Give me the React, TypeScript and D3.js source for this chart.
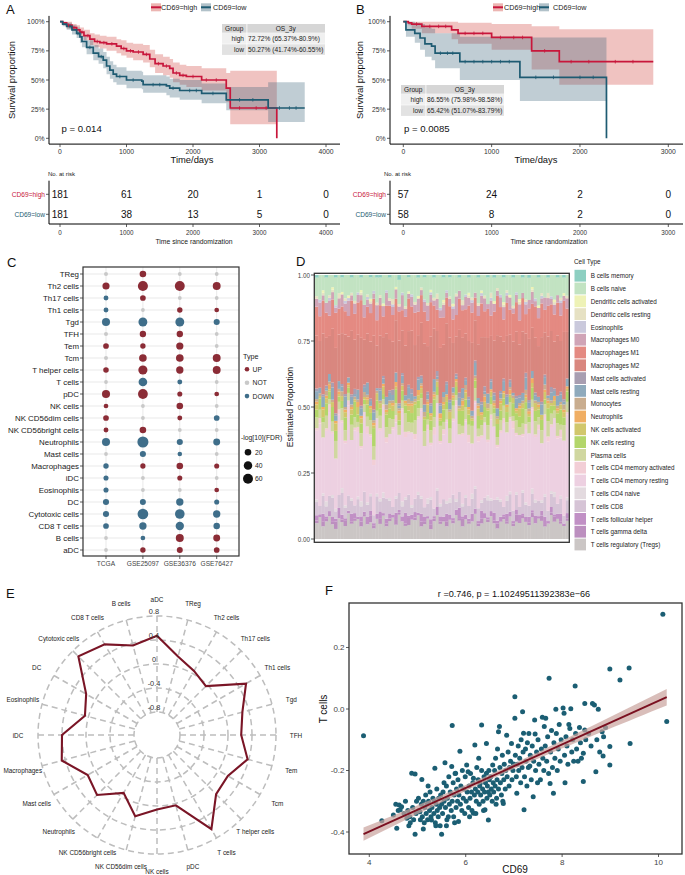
import React from "react";
import * as d3 from "d3";

const FONT = "'Liberation Sans', Arial, Helvetica, sans-serif";
const RED = "#C8163B";
const BLUE = "#1E5B72";
const RED_BAND = "#D0453F";
const BLUE_BAND = "#3B6579";

// ---------------- Panel A (TCGA) ----------------
const aHighTime = [0, 40, 100, 180, 250, 300, 360, 450, 520, 600, 700, 850, 920, 1000, 1100, 1250, 1350, 1430, 1550, 1650, 1700, 1800, 1900, 2130, 2500, 2560, 3260];
const aHighSurv = [1, .99, .97, .95, .93, .91, .88, .85, .83, .82, .81, .79, .77, .75, .74, .72, .68, .64, .62, .60, .56, .54, .53, .50, .43, .26, 0];
const aHighLower = [1, .97, .94, .92, .89, .87, .84, .80, .78, .77, .75, .73, .71, .69, .67, .65, .61, .56, .54, .52, .48, .46, .44, .41, .31, .12, .12];
const aHighUpper = [1, 1, 1, .98, .97, .95, .93, .90, .89, .88, .87, .85, .84, .82, .81, .80, .76, .72, .70, .68, .65, .63, .62, .60, .56, .58, .58];
const aHighCensor = [130, 210, 330, 420, 560, 660, 780, 960, 1060, 1180, 1300, 1480, 1600, 1750, 1850, 2000, 2200, 2350, 2700, 2950, 3100];

const aLowTime = [0, 40, 100, 180, 250, 300, 330, 400, 500, 580, 650, 700, 750, 800, 850, 1000, 1230, 1250, 1600, 1650, 1800, 2130, 2500, 3130, 3680];
const aLowSurv = [1, .98, .96, .93, .90, .87, .83, .78, .73, .70, .67, .62, .585, .55, .53, .50, .49, .46, .45, .43, .41, .385, .33, .26, .26];
const aLowLower = [1, .96, .93, .89, .86, .82, .78, .72, .67, .64, .60, .55, .51, .48, .46, .43, .42, .39, .37, .35, .33, .30, .24, .14, .14];
const aLowUpper = [1, 1, .99, .97, .95, .92, .88, .84, .80, .77, .74, .70, .66, .63, .61, .58, .57, .54, .53, .51, .50, .47, .44, .48, .48];
const aLowCensor = [150, 270, 450, 620, 900, 1100, 1400, 1500, 1700, 1950, 2050, 2300, 2700, 2900, 3300, 3450, 3550];

const aRiskTimes = [0, 1000, 2000, 3000, 4000];
const aRiskHigh = [181, 61, 20, 1, 0];
const aRiskLow = [181, 38, 13, 5, 0];
const aTableRows = [["high", "72.72% (65.37%-80.9%)"], ["low", "50.27% (41.74%-60.55%)"]];

// ---------------- Panel B ----------------
const bHighTime = [0, 57, 95, 210, 547, 620, 1000, 1453, 1766, 2830];
const bHighSurv = [1, .99, .98, .96, .93, .90, .865, .75, .657, .657];
const bHighLower = [1, .97, .94, .90, .85, .81, .76, .59, .46, .46];
const bHighUpper = [1, 1, 1, 1, 1, .99, .98, .96, .935, .935];
const bHighCensor = [150, 300, 400, 480, 700, 800, 900, 1100, 1250, 1350, 1600, 1900, 2100, 2400, 2600];

const bLowTime = [0, 30, 130, 190, 245, 320, 360, 640, 1320, 2300];
const bLowSurv = [1, .93, .90, .86, .81, .79, .73, .657, .523, 0];
const bLowLower = [1, .87, .82, .76, .70, .67, .60, .50, .32, .32];
const bLowUpper = [1, 1, .99, .98, .95, .94, .90, .87, .865, .865];
const bLowCensor = [420, 500, 560, 700, 800, 900, 1000, 1100, 1200, 1500, 1700, 2000, 2150];

const bRiskTimes = [0, 1000, 2000, 3000];
const bRiskHigh = [57, 24, 2, 0];
const bRiskLow = [58, 8, 2, 0];
const bTableRows = [["high", "86.55% (75.98%-98.58%)"], ["low", "65.42% (51.07%-83.79%)"]];

const survTicks = [0, 0.25, 0.5, 0.75, 1];

// ---------------- Panel C ----------------
const cRows = ["TReg", "Th2 cells", "Th17 cells", "Th1 cells", "Tgd", "TFH", "Tem", "Tcm", "T helper cells", "T cells", "pDC", "NK cells", "NK CD56dim cells", "NK CD56bright cells", "Neutrophils", "Mast cells", "Macrophages", "iDC", "Eosinophils", "DC", "Cytotoxic cells", "CD8 T cells", "B cells", "aDC"];
const cCols = ["TCGA", "GSE25097", "GSE36376", "GSE76427"];
const typeTCGA = ["N", "U", "D", "D", "D", "N", "U", "N", "U", "N", "U", "U", "U", "U", "D", "N", "D", "D", "D", "D", "D", "D", "N", "N"];
const typeGSE25097 = ["U", "U", "U", "N", "D", "U", "U", "U", "U", "D", "U", "N", "N", "U", "D", "D", "U", "N", "N", "D", "D", "D", "D", "U"];
const typeGSE36376 = ["N", "U", "N", "U", "D", "U", "U", "U", "U", "D", "U", "U", "U", "N", "D", "D", "U", "U", "N", "D", "D", "D", "U", "U"];
const typeGSE76427 = ["N", "U", "N", "U", "D", "N", "N", "U", "U", "N", "U", "N", "D", "N", "D", "N", "U", "N", "U", "D", "D", "D", "U", "U"];
const fdrTCGA = [4, 25, 8, 8, 35, 4, 13, 4, 12, 3, 35, 7, 13, 8, 35, 3, 11, 9, 9, 16, 16, 13, 3, 3];
const fdrGSE25097 = [20, 62, 13, 3, 45, 18, 11, 30, 48, 42, 58, 3, 3, 20, 78, 16, 10, 3, 3, 15, 72, 27, 7, 11];
const fdrGSE36376 = [3, 60, 3, 11, 45, 18, 26, 30, 27, 8, 9, 20, 8, 3, 16, 6, 20, 9, 3, 27, 55, 38, 34, 15];
const fdrGSE76427 = [3, 33, 3, 7, 16, 3, 3, 33, 33, 3, 7, 3, 13, 3, 23, 3, 9, 3, 7, 9, 27, 19, 23, 13];
const cTypeLabels = ["UP", "NOT", "DOWN"];
const cTypeColors: Record<string, string> = { U: "#8B2C36", N: "#C9C9C9", D: "#3F6E8A" };
const cSizeBreaks = [20, 40, 60];

// ---------------- Panel D (CIBERSORT fractions, %) ----------------
const cellTypes = ["B cells memory", "B cells naive", "Dendritic cells activated", "Dendritic cells resting", "Eosinophils", "Macrophages M0", "Macrophages M1", "Macrophages M2", "Mast cells activated", "Mast cells resting", "Monocytes", "Neutrophils", "NK cells activated", "NK cells resting", "Plasma cells", "T cells CD4 memory activated", "T cells CD4 memory resting", "T cells CD4 naive", "T cells CD8", "T cells follicular helper", "T cells gamma delta", "T cells regulatory (Tregs)"];
const cellColors = ["#8DCFC1", "#C2E3C2", "#EEF2B6", "#E6E1C3", "#CAC9DC", "#D0A4B6", "#E48A82", "#D9877F", "#A89EB1", "#8FAABC", "#C9AD8F", "#F0AE63", "#D1C76C", "#B3D66B", "#D0D7A0", "#F2CED6", "#EDD0E1", "#E3DADF", "#D6C4D6", "#C190C5", "#BC8FBF", "#CBC6C5"];

const bCellsMemory = [1,0,0,1,0,0,1,0,1,0, 0,1,0,0,1,0,0,1,0,1, 1,0,0,1,0,0,2,0,0,1, 0,0,1,0,1,0,0,1,0,0, 1,0,1,0,0,1,0,0,1,0, 0,1,0,0,1,0,1,0,0,1, 0,0,1,0,0,1,0,1,0,0, 1,0,0,1,0,0,1,0,1,0];
const bCellsNaive = [7,9,6,10,8,5,11,7,6,9, 8,6,10,7,5,12,8,9,6,10, 7,11,6,8,9,5,10,7,12,6, 8,10,7,5,9,11,6,8,7,13, 9,6,8,11,7,5,10,8,6,9, 7,10,6,8,11,7,9,5,8,10, 6,8,11,7,9,6,10,8,5,9, 11,7,9,6,8,10,7,9,6,8];
const dcActivated = [0,0,1,0,0,1,0,0,1,0, 1,0,0,0,1,0,0,1,0,0, 0,1,0,0,0,1,0,0,0,1, 0,0,1,0,0,0,1,0,0,0, 1,0,0,1,0,0,0,0,1,0, 0,0,1,0,0,0,1,0,0,1, 0,1,0,0,1,0,0,0,1,0, 1,0,0,0,0,1,0,0,1,0];
const dcResting = [1,0,1,0,1,1,0,2,0,1, 0,1,1,0,1,0,1,1,0,1, 1,0,0,1,2,0,1,0,1,0, 0,1,0,1,0,1,0,1,2,0, 1,0,1,0,1,0,2,0,1,1, 0,1,0,1,0,2,0,1,0,1, 1,0,1,0,1,0,1,0,1,0, 0,1,0,2,0,1,0,1,0,1];
const eosinophils = [0,1,0,0,1,0,1,0,0,1, 1,0,0,1,0,0,1,0,1,0, 0,0,1,0,1,0,0,1,0,0, 1,0,0,0,1,0,1,0,0,1, 0,1,0,1,0,0,0,1,0,1, 0,0,1,0,0,1,0,0,1,0, 1,0,0,1,0,0,1,0,0,1, 0,1,0,0,1,0,0,1,0,0];
const macroM0 = [3,5,2,4,6,3,2,4,5,3, 6,2,4,3,2,5,3,4,2,6, 3,4,5,2,3,4,2,6,3,2, 4,3,5,2,4,6,3,2,4,3, 5,2,3,4,7,3,2,5,3,4, 2,4,3,5,2,6,3,2,4,5, 3,5,2,3,6,2,4,3,5,2, 4,2,5,3,2,4,3,5,2,4];
const macroM1 = [11,9,13,10,8,12,14,10,11,9, 8,12,10,13,15,9,11,12,14,10, 12,8,11,13,10,9,12,8,11,14, 10,12,9,11,13,10,14,9,8,12, 11,10,13,9,8,12,11,10,14,12, 9,11,13,10,12,8,11,15,12,9, 13,10,11,12,9,13,8,11,10,12, 11,13,9,12,10,11,13,10,12,9];
const macroM2 = [20,17,24,19,15,22,26,18,21,23, 16,25,19,22,27,18,20,24,28,17, 21,15,25,20,18,22,26,17,19,23, 24,19,16,21,25,18,27,20,15,22, 19,23,26,17,14,24,20,18,22,27, 16,21,25,19,23,17,20,28,22,15, 23,18,20,26,19,24,16,22,18,21, 20,25,17,23,21,19,24,20,26,18];
const mastActivated = [1,0,1,1,0,2,1,0,1,1, 0,1,2,0,1,1,0,1,1,0, 1,1,0,1,2,0,1,1,0,1, 2,0,1,1,0,1,1,0,2,1, 0,1,1,0,1,2,0,1,1,0, 1,0,1,2,0,1,1,0,1,1, 1,1,0,1,1,0,2,1,0,1, 0,1,1,0,2,1,0,1,1,0];
const mastResting = [3,2,4,1,3,5,2,3,2,4, 2,3,1,4,3,2,5,2,3,1, 4,2,3,3,2,4,1,3,2,5, 3,1,4,2,3,2,3,5,1,3, 2,4,3,2,1,3,4,2,3,2, 5,2,3,1,4,3,2,3,2,4, 3,2,1,4,2,3,5,2,3,2, 2,4,3,1,3,2,4,3,1,3];
const monocytes = [1,1,0,2,1,1,0,1,2,1, 0,1,1,1,0,2,1,0,1,1, 1,0,2,1,1,0,1,1,0,2, 1,1,0,1,2,1,0,1,1,0, 2,0,1,1,0,1,1,2,0,1, 1,1,0,1,2,0,1,1,1,0, 0,1,1,0,1,1,2,1,0,1, 1,0,2,1,1,0,1,1,2,0];
const neutrophils = [1,0,1,1,2,0,1,1,0,1, 1,1,0,2,1,0,1,1,1,0, 0,1,1,0,1,2,1,0,1,1, 1,0,2,1,0,1,1,1,0,2, 1,1,0,1,1,0,2,1,1,0, 0,1,1,2,0,1,1,0,1,1, 1,2,0,1,1,0,1,1,2,0, 1,0,1,1,0,2,1,0,1,1];
const nkActivated = [2,1,3,2,1,2,3,1,2,2, 1,2,1,3,2,1,2,2,1,3, 2,3,1,2,2,1,3,2,1,2, 3,1,2,2,1,3,2,1,2,1, 2,2,3,1,2,1,2,3,2,1, 1,3,2,2,1,2,1,2,3,2, 2,1,2,1,3,2,2,1,2,3, 1,2,3,2,1,2,1,2,2,1];
const nkResting = [3,4,2,5,3,6,4,2,3,5, 2,4,6,3,4,2,5,3,7,4, 3,2,5,4,3,6,2,4,3,5, 4,6,3,2,5,3,4,7,3,2, 5,3,4,2,3,5,6,3,4,2, 3,5,2,4,6,3,2,5,4,3, 4,2,5,3,4,6,3,2,5,4, 3,4,2,5,3,2,4,6,3,4];
const plasmaCells = [4,3,6,5,2,4,7,3,5,4, 3,6,4,2,5,3,4,6,5,3, 5,2,4,6,3,5,4,3,7,4, 4,5,3,4,6,2,5,4,3,6, 3,4,6,5,2,4,3,5,4,7, 5,3,4,2,6,4,5,3,4,5, 4,6,2,5,3,4,6,4,3,5, 3,5,4,6,4,3,5,2,6,4];
const cd4MemActivated = [1,2,0,1,3,1,0,2,1,1, 2,0,1,2,1,0,3,1,2,0, 1,1,2,0,1,3,0,1,2,1, 0,2,1,1,0,2,1,3,0,1, 2,1,0,1,2,0,1,1,3,0, 1,2,1,0,1,2,0,1,1,2, 0,1,3,1,0,1,2,0,1,1, 2,0,1,2,1,0,1,3,0,1];
const cd4MemResting = [26,30,22,28,33,25,20,31,27,24, 35,23,29,26,21,32,28,24,19,30, 27,33,22,25,29,31,24,36,23,26, 30,22,28,34,25,27,21,29,32,24, 26,31,23,28,35,22,27,30,25,20, 33,26,24,29,22,31,28,19,27,34, 25,29,32,23,27,21,30,26,33,24, 28,22,31,27,24,30,26,23,29,32];
const cd4Naive = [1,0,1,2,0,1,1,0,2,1, 0,1,0,1,2,0,1,1,0,1, 1,2,0,1,0,1,0,2,1,0, 1,0,1,1,0,2,1,0,1,1, 0,1,2,0,1,0,1,1,0,2, 1,0,1,0,2,1,0,1,1,0, 2,1,0,1,0,1,1,0,2,1, 0,1,1,0,1,2,0,1,0,1];
const cd8 = [5,3,7,4,6,8,3,5,9,4, 6,5,3,7,4,8,5,6,3,7, 4,6,8,5,3,6,7,4,5,9, 3,5,7,6,4,5,8,3,6,4, 7,4,5,9,3,6,4,7,5,6, 8,5,3,6,7,4,5,8,6,3, 5,7,4,6,3,8,5,4,7,5, 6,3,8,4,5,7,4,6,3,5];
const tfh = [2,1,3,1,2,2,1,4,2,1, 1,3,2,1,2,1,3,2,1,2, 3,1,2,2,1,3,1,2,4,1, 2,2,1,3,2,1,2,1,3,2, 1,3,2,1,2,4,1,2,1,3, 2,1,3,2,1,2,3,1,2,1, 3,2,1,2,3,1,2,2,1,3, 1,2,3,1,2,1,2,3,1,2];
const gammaDelta = [1,0,2,1,0,1,3,0,1,2, 0,1,1,0,2,1,0,3,1,0, 2,0,1,1,0,2,1,0,1,3, 0,1,0,2,1,0,2,1,0,1, 1,2,0,1,0,1,3,0,1,0, 0,1,2,0,1,0,1,2,0,1, 1,0,1,3,0,1,0,1,2,0, 0,2,1,0,1,2,0,1,0,1];
const tregs = [6,8,5,7,9,6,4,8,7,5, 10,6,7,8,5,9,6,7,4,8, 6,9,5,7,8,6,10,7,5,6, 8,7,9,5,6,8,4,7,9,6, 7,5,8,6,9,7,5,8,6,7, 10,5,6,8,7,9,6,4,7,8, 6,9,5,7,6,8,7,5,9,6, 8,7,5,6,9,7,8,6,5,7];
const cellFractions = [bCellsMemory, bCellsNaive, dcActivated, dcResting, eosinophils, macroM0, macroM1, macroM2, mastActivated, mastResting, monocytes, neutrophils, nkActivated, nkResting, plasmaCells, cd4MemActivated, cd4MemResting, cd4Naive, cd8, tfh, gammaDelta, tregs];
const dTicks = [0, 0.25, 0.5, 0.75, 1];

// ---------------- Panel E (radar) ----------------
const radarCats = ["aDC", "TReg", "Th2 cells", "Th17 cells", "Th1 cells", "Tgd", "TFH", "Tem", "Tcm", "T helper cells", "T cells", "pDC", "NK cells", "NK CD56dim cells", "NK CD56bright cells", "Neutrophils", "Mast cells", "Macrophages", "iDC", "Eosinophils", "DC", "Cytotoxic cells", "CD8 T cells", "B cells"];
const radarVals = [0.47, 0.17, 0.05, -0.03, 0.53, 0.29, 0.22, 0.38, 0.18, 0.21, 0.63, 0.03, 0.06, 0.22, -0.07, 0.23, 0.15, 0.46, 0.40, 0.06, 0.18, 0.67, 0.56, 0.36];
const radarRings = [-0.8, -0.4, 0, 0.4, 0.8];

// ---------------- Panel F (scatter) ----------------
const cd69VsTcells: [number, number][] = [
  [3.88,-0.087],[4.26,-0.363],[4.57,-0.388],[4.55,-0.31],[4.60,-0.33],[4.62,-0.312],[4.64,-0.328],[4.67,-0.318],[4.50,-0.345],
  [4.72,-0.34],[4.75,-0.30],[4.78,-0.355],[4.80,-0.33],[4.84,-0.35],[4.85,-0.37],[4.88,-0.209],[4.90,-0.32],[4.92,-0.36],[4.95,-0.211],[4.95,-0.407],[4.97,-0.34],[4.98,-0.30],[4.82,-0.38],
  [5.02,-0.29],[5.03,-0.33],[5.05,-0.334],[5.06,-0.36],[5.08,-0.31],[5.09,-0.229],[5.10,-0.35],[5.12,-0.30],[5.14,-0.37],[5.15,-0.32],
  [5.17,-0.28],[5.18,-0.34],[5.20,-0.31],[5.21,-0.36],[5.23,-0.30],[5.25,-0.33],[5.26,-0.27],[5.28,-0.35],[5.29,-0.361],[5.30,-0.32],
  [5.32,-0.29],[5.34,-0.34],[5.35,-0.30],[5.36,-0.193],[5.37,-0.37],[5.39,-0.31],[5.40,-0.26],[5.41,-0.33],[5.43,-0.35],[5.44,-0.29],
  [5.46,-0.32],[5.47,-0.38],[5.48,-0.28],[5.50,-0.407],[5.50,-0.31],[5.12,-0.39],[5.22,-0.25],[5.38,-0.38],
  [5.52,-0.34],[5.53,-0.27],[5.55,-0.30],[5.57,-0.175],[5.58,-0.32],[5.60,-0.25],[5.61,-0.36],[5.62,-0.29],[5.64,-0.35],[5.65,-0.22],
  [5.66,-0.31],[5.68,-0.27],[5.70,-0.33],[5.71,-0.187],[5.72,-0.054],[5.72,-0.30],[5.74,-0.24],[5.75,-0.35],[5.76,-0.28],[5.78,-0.21],
  [5.79,-0.209],[5.80,-0.32],[5.81,-0.26],[5.83,-0.30],[5.84,-0.23],[5.85,-0.366],[5.86,-0.28],[5.88,-0.137],[5.89,-0.31],[5.90,-0.25],
  [5.92,-0.33],[5.93,-0.20],[5.95,-0.29],[5.96,-0.26],[5.98,-0.34],[5.99,-0.22],[5.60,-0.38],[5.77,-0.37],[5.55,-0.24],
  [6.01,-0.30],[6.02,-0.182],[6.03,-0.27],[6.05,-0.204],[6.06,-0.32],[6.07,-0.25],[6.09,-0.29],[6.10,-0.21],[6.12,-0.27],[6.13,-0.33],
  [6.15,-0.24],[6.16,-0.225],[6.16,-0.339],[6.18,-0.28],[6.19,-0.117],[6.20,-0.26],[6.22,-0.30],[6.23,-0.19],[6.25,-0.27],[6.26,-0.23],
  [6.28,-0.31],[6.29,-0.25],[6.30,-0.242],[6.31,-0.28],[6.33,-0.052],[6.33,-0.20],[6.35,-0.26],[6.36,-0.30],[6.38,-0.22],[6.39,-0.27],
  [6.40,-0.328],[6.41,-0.24],[6.43,-0.112],[6.43,-0.209],[6.44,-0.29],[6.45,-0.25],[6.47,-0.361],[6.47,-0.27],[6.48,-0.20],[6.49,-0.23],
  [6.08,-0.35],[6.21,-0.34],[6.37,-0.33],[6.27,-0.16],
  [6.50,-0.28],[6.52,-0.22],[6.53,-0.26],[6.55,-0.30],[6.56,-0.182],[6.57,-0.24],[6.58,-0.27],[6.60,-0.20],[6.61,-0.25],[6.62,-0.16],
  [6.64,-0.29],[6.65,-0.23],[6.66,-0.13],[6.68,-0.074],[6.68,-0.26],[6.70,-0.057],[6.71,-0.19],[6.72,-0.24],[6.74,-0.28],[6.75,-0.21],
  [6.76,-0.15],[6.78,-0.307],[6.79,-0.23],[6.80,-0.18],[6.82,-0.26],[6.83,-0.20],[6.85,-0.085],[6.86,-0.22],[6.88,-0.14],[6.90,-0.25],
  [6.91,-0.19],[6.93,-0.17],[6.95,-0.112],[6.96,-0.23],[6.98,-0.20],[6.99,-0.179],[6.63,-0.31],[6.77,-0.30],
  [7.02,-0.03],[7.02,0.04],[7.03,-0.15],[7.05,-0.22],[7.06,-0.274],[7.07,-0.18],[7.09,-0.12],[7.10,-0.20],[7.12,-0.16],[7.14,-0.24],
  [7.15,-0.10],[7.17,-0.19],[7.18,-0.009],[7.19,-0.14],[7.20,-0.079],[7.21,-0.328],[7.22,-0.22],[7.24,-0.13],[7.25,-0.17],[7.27,-0.25],
  [7.28,-0.11],[7.30,-0.19],[7.31,-0.08],[7.33,-0.185],[7.34,-0.15],[7.36,-0.23],[7.38,-0.12],[7.40,-0.285],[7.41,-0.17],[7.43,-0.036],
  [7.44,-0.081],[7.45,-0.20],[7.47,-0.14],[7.49,-0.24],
  [7.50,-0.10],[7.52,-0.18],[7.55,-0.23],[7.57,-0.13],[7.59,-0.027],[7.60,-0.16],[7.62,-0.20],[7.63,-0.057],[7.65,-0.12],[7.66,-0.03],
  [7.68,-0.17],[7.70,-0.09],[7.72,-0.21],[7.73,0.10],[7.75,-0.242],[7.76,-0.14],[7.78,-0.07],[7.80,-0.19],[7.82,-0.274],[7.83,-0.11],
  [7.85,-0.16],[7.87,-0.001],[7.88,-0.08],[7.90,-0.20],[7.92,-0.13],[7.94,-0.05],[7.96,-0.17],[7.98,-0.10],
  [8.02,0.003],[8.04,-0.014],[8.05,-0.15],[8.06,-0.24],[8.08,-0.09],[8.10,-0.12],[8.12,-0.18],[8.14,-0.05],[8.16,-0.063],[8.18,0.001],
  [8.20,-0.14],[8.22,-0.10],[8.24,-0.17],[8.27,0.075],[8.28,-0.08],[8.30,-0.13],[8.33,-0.17],[8.36,-0.06],[8.38,-0.11],[8.40,-0.16],
  [8.44,-0.144],[8.44,-0.236],[8.47,0.018],[8.47,-0.068],[8.49,-0.10],
  [8.55,-0.08],[8.60,-0.12],[8.63,0.018],[8.67,0.013],[8.70,-0.204],[8.72,-0.10],[8.75,-0.001],[8.78,-0.14],[8.83,-0.074],[8.85,-0.153],
  [8.86,-0.09],[8.90,-0.06],[8.99,0.13],[8.99,-0.122],[8.99,-0.182],
  [9.20,0.094],[9.39,0.133],[9.41,-0.112],[10.09,0.308],[10.17,-0.041]
];
const fXTicks = [4, 6, 8, 10];
const fYTicks = [-0.4, -0.2, 0, 0.2];

// ======================================================
type Curve = { name: string; t: number[]; s: number[]; lo: number[]; hi: number[]; cens: number[]; color: string; band: string };

function KMPanel(p: any) {
  const xS = d3.scaleLinear().domain([0, p.tMax]).range(p.tRange);
  const yS = d3.scaleLinear().domain([0, 1]).range([138.3, 21.7]);
  const curves: Curve[] = p.curves;
  const axB = 144.1, axT = 15.9;
  const stepAt = (c: Curve, t: number) => {
    let v = c.s[0];
    c.t.forEach((tt, i) => { if (tt <= t) v = c.s[i]; });
    return v;
  };
  const rowsY = [194.3, 214.3];
  const tb = p.table;
  return (
    <g fontFamily={FONT}>
      <text x={p.letterX} y={14} fontSize={13} fill="#111">{p.letter}</text>
      {curves.map((c, k) => (
        <g key={"lg" + k}>
          <rect x={p.legSw[k]} y={3.3} width={10} height={8} fill={c.band} fillOpacity={0.4} />
          <line x1={p.legSw[k]} x2={p.legSw[k] + 10} y1={7.3} y2={7.3} stroke={c.color} strokeWidth={2} />
          <text x={p.legTx[k]} y={7.5} fontSize={7.2} dominantBaseline="central" fill="#222">{c.name}</text>
        </g>
      ))}
      {curves.map((c, k) => {
        const idx = d3.range(c.t.length);
        const d = d3.area<number>().x(i => xS(c.t[i])).y0(i => yS(c.lo[i])).y1(i => yS(c.hi[i])).curve(d3.curveStepAfter)(idx);
        return <path key={"b" + k} d={d || ""} fill={c.band} fillOpacity={0.32} />;
      })}
      {curves.map((c, k) => {
        const idx = d3.range(c.t.length);
        const d = d3.line<number>().x(i => xS(c.t[i])).y(i => yS(c.s[i])).curve(d3.curveStepAfter)(idx);
        return <path key={"l" + k} d={d || ""} fill="none" stroke={c.color} strokeWidth={1.7} />;
      })}
      {curves.map((c, k) => c.cens.map((t, j) => (
        <line key={"c" + k + "_" + j} x1={xS(t)} x2={xS(t)} y1={yS(stepAt(c, t)) - 1.8} y2={yS(stepAt(c, t)) + 1.8} stroke={c.color} strokeWidth={0.8} />
      )))}
      <line x1={p.axL} x2={p.axL} y1={axT} y2={axB} stroke="#000" strokeWidth={1} />
      <line x1={p.axL} x2={p.axR} y1={axB} y2={axB} stroke="#000" strokeWidth={1} />
      {survTicks.map(v => (
        <g key={"yt" + v}>
          <line x1={p.axL - 3} x2={p.axL} y1={yS(v)} y2={yS(v)} stroke="#333" strokeWidth={0.8} />
          <text x={p.axL - 4.5} y={yS(v)} fontSize={6.8} textAnchor="end" dominantBaseline="central" fill="#333">{Math.round(v * 100) + "%"}</text>
        </g>
      ))}
      {p.ticks.map((t: number) => (
        <g key={"xt" + t}>
          <line x1={xS(t)} x2={xS(t)} y1={axB} y2={axB + 3} stroke="#333" strokeWidth={0.8} />
          <text x={xS(t)} y={151.5} fontSize={6.8} textAnchor="middle" dominantBaseline="central" fill="#333">{t}</text>
        </g>
      ))}
      <text transform={`translate(${p.yTitleX},80) rotate(-90)`} fontSize={9.4} textAnchor="middle" fill="#111">Survival proportion</text>
      <text x={p.xTitleX} y={163} fontSize={9.4} textAnchor="middle" fill="#111">Time/days</text>
      <rect x={tb.x} y={tb.y} width={tb.gw} height={8.7} fill="#D6D6D6" />
      <rect x={tb.x + tb.gw + 0.8} y={tb.y} width={tb.w - tb.gw - 0.8} height={8.7} fill="#D6D6D6" />
      <text x={tb.x + tb.gw / 2} y={tb.y + 4.6} fontSize={6.6} textAnchor="middle" dominantBaseline="central" fill="#222">Group</text>
      <text x={tb.x + tb.gw + (tb.w - tb.gw) / 2} y={tb.y + 4.6} fontSize={6.6} textAnchor="middle" dominantBaseline="central" fill="#222">OS_3y</text>
      {p.tableRows.map((r: string[], k: number) => {
        const y0 = tb.y + 8.7 + k * 11.2;
        const fill = k === 0 ? "#F0F0F0" : "#E2E2E2";
        return (
          <g key={"tr" + k}>
            <rect x={tb.x} y={y0 + 0.4} width={tb.gw} height={10.6} fill={fill} />
            <rect x={tb.x + tb.gw + 0.8} y={y0 + 0.4} width={tb.w - tb.gw - 0.8} height={10.6} fill={fill} />
            <text x={tb.x + tb.gw - 2.5} y={y0 + 5.9} fontSize={6.6} textAnchor="end" dominantBaseline="central" fill="#222">{r[0]}</text>
            <text x={tb.x + tb.gw + 1.5} y={y0 + 5.9} fontSize={6.6} dominantBaseline="central" fill="#222">{r[1]}</text>
          </g>
        );
      })}
      <text x={p.pX} y={131.5} fontSize={9.6} fill="#111">{p.pText}</text>
      <text x={p.noRiskX} y={173.5} fontSize={6} dominantBaseline="central" fill="#222">No. at risk</text>
      <line x1={p.axL} x2={p.axL} y1={180.7} y2={224} stroke="#000" strokeWidth={1} />
      <line x1={p.axL} x2={p.axR} y1={224} y2={224} stroke="#000" strokeWidth={1} />
      {[p.riskHigh, p.riskLow].map((arr: number[], k: number) => (
        <g key={"rk" + k}>
          <line x1={p.axL - 3} x2={p.axL} y1={rowsY[k]} y2={rowsY[k]} stroke="#333" strokeWidth={0.8} />
          <text x={p.axL - 4} y={rowsY[k]} fontSize={6.6} textAnchor="end" dominantBaseline="central" fill={curves[k].color}>{curves[k].name}</text>
          {arr.map((v, j) => (
            <text key={j} x={xS(p.riskTimes[j])} y={rowsY[k] + 0.5} fontSize={10} textAnchor="middle" dominantBaseline="central" fill="#111">{v}</text>
          ))}
        </g>
      ))}
      {p.riskTimes.map((t: number) => (
        <g key={"rt" + t}>
          <line x1={xS(t)} x2={xS(t)} y1={224} y2={227} stroke="#333" strokeWidth={0.8} />
          <text x={xS(t)} y={232} fontSize={6.3} textAnchor="middle" dominantBaseline="central" fill="#333">{t}</text>
        </g>
      ))}
      <text x={p.riskTitleX} y={241} fontSize={6.8} textAnchor="middle" dominantBaseline="central" fill="#222">Time since randomization</text>
    </g>
  );
}

function PanelC() {
  const cx = d3.scalePoint<string>().domain(cCols).range([106, 216.7]);
  const cy = d3.scalePoint<string>().domain(cRows).range([274, 550]);
  const cr = d3.scaleSqrt().domain([0, 70]).range([1, 5.3]);
  const types = [typeTCGA, typeGSE25097, typeGSE36376, typeGSE76427];
  const fdrs = [fdrTCGA, fdrGSE25097, fdrGSE36376, fdrGSE76427];
  const L = 83, R = 239, T = 267, B = 556;
  return (
    <g fontFamily={FONT}>
      <text x={7} y={267} fontSize={13} fill="#111">C</text>
      {cRows.map(r => <line key={"gh" + r} x1={L} x2={R} y1={cy(r)!} y2={cy(r)!} stroke="#E6E6E6" strokeWidth={0.9} />)}
      {cCols.map(c => <line key={"gv" + c} x1={cx(c)!} x2={cx(c)!} y1={T} y2={B} stroke="#E6E6E6" strokeWidth={0.9} />)}
      {cCols.map((c, ci) => cRows.map((r, ri) => (
        <circle key={c + r} cx={cx(c)!} cy={cy(r)!} r={cr(fdrs[ci][ri])} fill={cTypeColors[types[ci][ri]]} />
      )))}
      <rect x={L} y={T} width={R - L} height={B - T} fill="none" stroke="#333" strokeWidth={1.2} />
      {cRows.map(r => (
        <g key={"yl" + r}>
          <line x1={L - 3} x2={L} y1={cy(r)!} y2={cy(r)!} stroke="#333" strokeWidth={0.8} />
          <text x={L - 4} y={cy(r)!} fontSize={7.9} textAnchor="end" dominantBaseline="central" fill="#1a1a1a">{r}</text>
        </g>
      ))}
      {cCols.map(c => (
        <g key={"xl" + c}>
          <line x1={cx(c)!} x2={cx(c)!} y1={B} y2={B + 3} stroke="#333" strokeWidth={0.8} />
          <text x={cx(c)!} y={563.5} fontSize={6.6} textAnchor="middle" dominantBaseline="central" fill="#444">{c}</text>
        </g>
      ))}
      <text x={243} y={356} fontSize={7.2} dominantBaseline="central" fill="#222">Type</text>
      {["U", "N", "D"].map((t, k) => (
        <g key={"lt" + t}>
          <circle cx={247} cy={369.3 + k * 13.4} r={2.3} fill={cTypeColors[t]} />
          <text x={252.5} y={369.5 + k * 13.4} fontSize={6.8} dominantBaseline="central" fill="#222">{cTypeLabels[k]}</text>
        </g>
      ))}
      <text x={241} y={437.7} fontSize={6.8} dominantBaseline="central" fill="#222">-log[10](FDR)</text>
      {cSizeBreaks.map((v, k) => (
        <g key={"ls" + v}>
          <circle cx={248} cy={452.3 + k * 13.2} r={cr(v)} fill="#111" />
          <text x={255} y={452.5 + k * 13.2} fontSize={6.8} dominantBaseline="central" fill="#222">{v}</text>
        </g>
      ))}
    </g>
  );
}

function PanelD() {
  const n = tregs.length;
  const keys = d3.range(cellTypes.length).reverse();
  const rows = d3.range(n).map(i => {
    const tot = d3.sum(cellFractions, a => a[i]);
    const o: Record<number, number> = {};
    cellFractions.forEach((a, k) => { o[k] = a[i] / tot; });
    return o;
  });
  const series = d3.stack<Record<number, number>, number>().keys(keys)(rows);
  const x = d3.scaleBand<number>().domain(d3.range(n)).range([315, 568.5]).padding(0);
  const y = d3.scaleLinear().domain([0, 1]).range([539, 275]);
  return (
    <g fontFamily={FONT}>
      <text x={296} y={266} fontSize={13} fill="#111">D</text>
      {series.map(s => (
        <g key={"s" + s.key} fill={cellColors[s.key as number]}>
          {s.map((d, i) => (
            <rect key={i} x={x(i)!} y={y(d[1])} width={x.bandwidth() + 0.35} height={Math.max(0, y(d[0]) - y(d[1]))} />
          ))}
        </g>
      ))}
      <rect x={314.3} y={273.3} width={255} height={269} fill="none" stroke="#333" strokeWidth={1.3} />
      {dTicks.map(v => (
        <g key={"dt" + v}>
          <line x1={311} x2={314.3} y1={y(v)} y2={y(v)} stroke="#333" strokeWidth={0.8} />
          <text x={310} y={y(v)} fontSize={6.3} textAnchor="end" dominantBaseline="central" fill="#444">{v.toFixed(2)}</text>
        </g>
      ))}
      <text transform="translate(293,407) rotate(-90)" fontSize={8.6} textAnchor="middle" fill="#222">Estimated Proportion</text>
      <text x={574} y={261.7} fontSize={6.4} dominantBaseline="central" fill="#222">Cell Type</text>
      {cellTypes.map((c, k) => (
        <g key={"dl" + c}>
          <rect x={574.5} y={269.8 + k * 12.8} width={11.5} height={11.8} fill={cellColors[k]} />
          <text x={590.7} y={275.9 + k * 12.8} fontSize={6.3} dominantBaseline="central" fill="#222">{c}</text>
        </g>
      ))}
    </g>
  );
}

function PanelE() {
  const cxE = 157, cyE = 735;
  const r = d3.scaleLinear().domain([-0.8, 0.8]).range([23, 119]);
  const m = radarCats.length;
  const ang = (i: number) => (i * 2 * Math.PI) / m;
  const poly = d3.lineRadial<number>().angle((_, i) => ang(i)).radius(d => r(d)).curve(d3.curveLinearClosed)(radarVals);
  return (
    <g fontFamily={FONT}>
      <text x={6} y={598} fontSize={13} fill="#111">E</text>
      <g transform={`translate(${cxE},${cyE})`}>
        {radarRings.map(v => (
          <circle key={"rg" + v} r={r(v)} fill="none" stroke="#BDBDBD" strokeWidth={1.5} strokeDasharray="6,4" />
        ))}
        {radarCats.map((c, i) => (
          <line key={"sp" + c} x1={Math.sin(ang(i)) * r(-0.8)} y1={-Math.cos(ang(i)) * r(-0.8)} x2={Math.sin(ang(i)) * r(0.8)} y2={-Math.cos(ang(i)) * r(0.8)} stroke="#BDBDBD" strokeWidth={1.5} strokeDasharray="6,4" />
        ))}
        <path d={poly || ""} fill="none" stroke="#7A1526" strokeWidth={2.1} strokeLinejoin="miter" />
        {radarRings.map(v => (
          <text key={"rl" + v} x={-3} y={-r(v) - 5} fontSize={7.4} textAnchor="middle" dominantBaseline="central" fill="#333">{v === 0 ? "0" : v.toFixed(1)}</text>
        ))}
        {radarCats.map((c, i) => (
          <text key={"lb" + c} x={Math.sin(ang(i)) * 139} y={-Math.cos(ang(i)) * 136} fontSize={6.4} textAnchor="middle" dominantBaseline="central" fill="#222">{c}</text>
        ))}
      </g>
    </g>
  );
}

function PanelF() {
  const L = 349, R = 682, T = 603, B = 854;
  const x = d3.scaleLinear().domain([3.579, 10.487]).range([L, R]);
  const y = d3.scaleLinear().domain([-0.4715, 0.3447]).range([B, T]);
  const xs = cd69VsTcells.map(d => d[0]);
  const n = xs.length;
  const mx = d3.mean(xs)!;
  const my = d3.mean(cd69VsTcells, d => d[1])!;
  const sxx = d3.sum(xs, v => (v - mx) ** 2);
  const sxy = d3.sum(cd69VsTcells, d => (d[0] - mx) * (d[1] - my));
  const b = sxy / sxx;
  const a = my - b * mx;
  const s = Math.sqrt(d3.sum(cd69VsTcells, d => (d[1] - a - b * d[0]) ** 2) / (n - 2));
  const [xmin, xmax] = d3.extent(xs) as [number, number];
  const grid = d3.range(0, 41).map(k => xmin + ((xmax - xmin) * k) / 40);
  const se = (v: number) => s * Math.sqrt(1 / n + (v - mx) ** 2 / sxx);
  const band = d3.area<number>().x(v => x(v)).y0(v => y(a + b * v - 1.97 * se(v))).y1(v => y(a + b * v + 1.97 * se(v)))(grid);
  const line = d3.line<number>().x(v => x(v)).y(v => y(a + b * v))([xmin, xmax]);
  return (
    <g fontFamily={FONT}>
      <text x={325} y={595} fontSize={13} fill="#111">F</text>
      <text x={514} y={594} fontSize={9.1} textAnchor="middle" dominantBaseline="central" fill="#111">r =0.746, p = 1.10249511392383e−66</text>
      {cd69VsTcells.map((d, i) => (
        <circle key={i} cx={x(d[0])} cy={y(d[1])} r={2.5} fill="#1B5E73" />
      ))}
      <path d={band || ""} fill="#C9A29D" fillOpacity={0.7} />
      <path d={line || ""} stroke="#7A1020" strokeWidth={1.9} fill="none" />
      <rect x={L} y={T} width={R - L} height={B - T} fill="none" stroke="#333" strokeWidth={1.3} />
      {fXTicks.map(v => (
        <g key={"fx" + v}>
          <line x1={x(v)} x2={x(v)} y1={B} y2={B + 3} stroke="#333" strokeWidth={0.8} />
          <text x={x(v)} y={862.5} fontSize={8} textAnchor="middle" dominantBaseline="central" fill="#444">{v}</text>
        </g>
      ))}
      {fYTicks.map(v => (
        <g key={"fy" + v}>
          <line x1={L - 3} x2={L} y1={y(v)} y2={y(v)} stroke="#333" strokeWidth={0.8} />
          <text x={L - 4.5} y={y(v)} fontSize={8} textAnchor="end" dominantBaseline="central" fill="#444">{v.toFixed(1)}</text>
        </g>
      ))}
      <text x={515} y={873} fontSize={10} textAnchor="middle" fill="#111">CD69</text>
      <text transform="translate(327,709) rotate(-90)" fontSize={10} textAnchor="middle" fill="#111">T cells</text>
    </g>
  );
}

export default function App() {
  const aCurves: Curve[] = [
    { name: "CD69=high", t: aHighTime, s: aHighSurv, lo: aHighLower, hi: aHighUpper, cens: aHighCensor, color: RED, band: RED_BAND },
    { name: "CD69=low", t: aLowTime, s: aLowSurv, lo: aLowLower, hi: aLowUpper, cens: aLowCensor, color: BLUE, band: BLUE_BAND },
  ];
  const bCurves: Curve[] = [
    { name: "CD69=high", t: bHighTime, s: bHighSurv, lo: bHighLower, hi: bHighUpper, cens: bHighCensor, color: RED, band: RED_BAND },
    { name: "CD69=low", t: bLowTime, s: bLowSurv, lo: bLowLower, hi: bLowUpper, cens: bLowCensor, color: BLUE, band: BLUE_BAND },
  ];
  return (
    <div style={{ position: "absolute", left: 0, top: 0, width: 685, height: 875, background: "#fff" }}>
      <svg width={685} height={875} style={{ display: "block" }}>
        <rect width={685} height={875} fill="#fff" />
        <KMPanel letter="A" letterX={6} curves={aCurves} tMax={4000} tRange={[60, 326]} ticks={aRiskTimes}
          axL={49} axR={340} legSw={[151, 201]} legTx={[161, 213]} yTitleX={15} xTitleX={192}
          table={{ x: 222, y: 24, w: 103, gw: 24.5 }} tableRows={aTableRows} pX={61.5} pText="p = 0.014"
          noRiskX={48} riskTimes={aRiskTimes} riskHigh={aRiskHigh} riskLow={aRiskLow} riskTitleX={194} />
        <KMPanel letter="B" letterX={356} curves={bCurves} tMax={3000} tRange={[403.3, 668.3]} ticks={bRiskTimes}
          axL={390} axR={683} legSw={[493, 539]} legTx={[504, 553]} yTitleX={363} xTitleX={536}
          table={{ x: 401, y: 85, w: 103, gw: 24.5 }} tableRows={bTableRows} pX={404} pText="p = 0.0085"
          noRiskX={384} riskTimes={bRiskTimes} riskHigh={bRiskHigh} riskLow={bRiskLow} riskTitleX={549} />
        <PanelC />
        <PanelD />
        <PanelE />
        <PanelF />
      </svg>
    </div>
  );
}
